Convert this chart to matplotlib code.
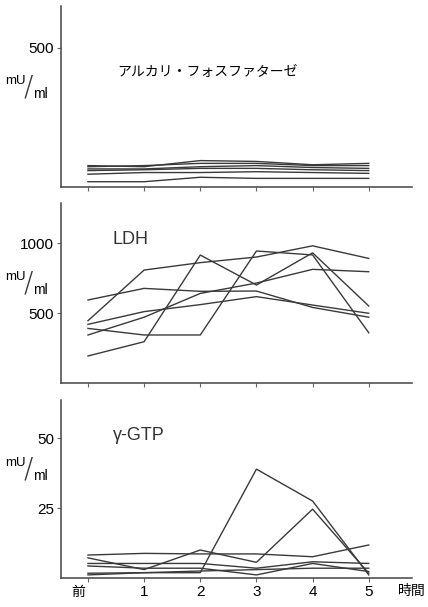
import matplotlib.pyplot as plt
from matplotlib.transforms import ScaledTranslation

# hours after dosing, 0 = before ("前")
hours = [0, 1, 2, 3, 4, 5]
hour_labels = ["前", "1", "2", "3", "4", "5"]

# alkaline phosphatase, mU/ml, one list per subject
alp_1 = [77, 73, 95, 92, 80, 85]
alp_2 = [73, 77, 85, 85, 77, 77]
alp_3 = [65, 65, 73, 77, 70, 67]
alp_4 = [59, 62, 67, 67, 62, 59]
alp_5 = [46, 52, 52, 55, 52, 49]
alp_6 = [19, 19, 35, 31, 31, 31]

# LDH, mU/ml
ldh_1 = [593, 676, 655, 657, 540, 470]
ldh_2 = [445, 807, 860, 900, 980, 890]
ldh_3 = [193, 295, 914, 700, 930, 550]
ldh_4 = [390, 343, 343, 943, 915, 359]
ldh_5 = [419, 510, 560, 617, 557, 498]
ldh_6 = [343, 470, 640, 714, 812, 795]

# gamma-GTP, mU/ml
ggt_1 = [8.2, 8.8, 8.6, 8.6, 7.6, 11.8]
ggt_2 = [7.2, 3.0, 10.0, 5.6, 24.6, 1.7]
ggt_3 = [1.7, 1.9, 1.9, 38.9, 27.5, 1.1]
ggt_4 = [5.2, 5.2, 5.2, 3.5, 5.8, 5.2]
ggt_5 = [4.3, 3.5, 3.5, 1.1, 5.2, 2.3]
ggt_6 = [1.1, 1.9, 2.5, 3.0, 3.5, 3.5]

panels = [
    ("アルカリ・フォスファターゼ", [alp_1, alp_2, alp_3, alp_4, alp_5, alp_6], 651, [500], 0.635),
    ("LDH", [ldh_1, ldh_2, ldh_3, ldh_4, ldh_5, ldh_6], 1286, [500, 1000], 0.80),
    ("γ-GTP", [ggt_1, ggt_2, ggt_3, ggt_4, ggt_5, ggt_6], 63.6, [25, 50], 0.80),
]

W, H = 428, 607
line_col = "#3a3a3a"
num_font = "Liberation Sans"
jp_font = ["Noto Sans CJK JP", "DejaVu Sans"]

fig = plt.figure(figsize=(W / 100, H / 100), dpi=100)

# axes boxes in pixels (top, bottom)
boxes = [(6, 187), (203, 383), (400, 578)]
left, right = 61, 412

for i, (name, series, ymax, yticks, title_y) in enumerate(panels):
    top, bot = boxes[i]
    ax = fig.add_axes([left / W, 1 - bot / H, (right - left) / W, (bot - top) / H])
    for s in series:
        ax.plot(hours, s, color=line_col, lw=1.0)
    ax.set_xlim(-0.48, 5.77)
    ax.set_ylim(0, ymax)
    for sp in ["top", "right"]:
        ax.spines[sp].set_visible(False)
    for sp in ["left", "bottom"]:
        ax.spines[sp].set_color("#444444")
        ax.spines[sp].set_linewidth(1.1)
    ax.set_xticks(hours)
    ax.set_yticks(yticks)
    ax.set_yticklabels([str(v) for v in yticks], fontfamily=num_font, fontsize=11)
    ax.tick_params(axis="both", direction="out", length=3, width=0.8, color="#666666", pad=2)
    if i < 2:
        ax.set_xticklabels([])
    else:
        ax.set_xticklabels(hour_labels, fontsize=11)
        for lab in ax.get_xticklabels():
            if lab.get_text() == "前":
                lab.set_fontfamily(jp_font)
                lab.set_fontsize(10)
                lab.set_transform(lab.get_transform() + ScaledTranslation(-0.10, 0, fig.dpi_scale_trans))
            else:
                lab.set_fontfamily(num_font)
        ax.annotate("時間", xy=(1.0, 0), xycoords="axes fraction", xytext=(0, -4),
                    textcoords="offset points", ha="center", va="top",
                    fontfamily=jp_font, fontsize=10)

    if i == 0:
        ax.text(0.16, title_y, name, transform=ax.transAxes, ha="left", va="center",
                fontfamily=jp_font, fontsize=10)
    else:
        ax.text(0.148, title_y, name, transform=ax.transAxes, ha="left", va="center",
                fontfamily=num_font, fontsize=13, color="#333333")

    # unit label drawn as mU / ml fraction
    uy = [81, 277, 463][i]
    fig.text(15 / W, 1 - uy / H, "mU", ha="center", va="center", fontfamily=num_font, fontsize=9.5)
    fig.text(28 / W, 1 - (uy + 7) / H, "/", ha="center", va="center", fontfamily="DejaVu Sans",
             fontsize=20, fontweight="light", color="#333333")
    fig.text(40 / W, 1 - (uy + 13) / H, "ml", ha="center", va="center", fontfamily=num_font, fontsize=10)

fig.savefig("out.png", dpi=100)
